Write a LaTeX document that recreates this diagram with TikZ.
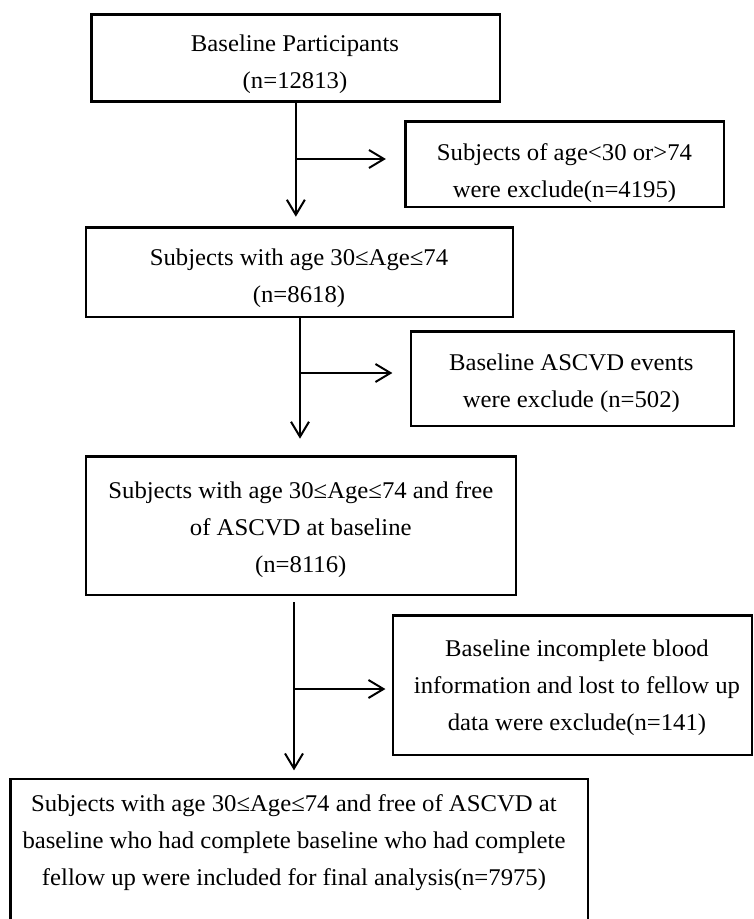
\documentclass[tikz,border=0pt]{standalone}
\usepackage{fontspec}
\setmainfont[FakeStretch=1.03]{Liberation Serif}
\usetikzlibrary{arrows.meta,calc}
\begin{document}
\begin{tikzpicture}[x=1pt,y=-1pt,
  txt/.style={align=center,font=\fontsize{24}{37}\selectfont,inner sep=0pt},
  box/.style={draw,line width=2.6pt,inner sep=0pt},
  arr/.style={line width=2pt,-{Straight Barb[length=15pt,width=18pt]}}]
\useasboundingbox (0,0) rectangle (753,919);
\clip (0,0) rectangle (753,919);
% boxes
\node[box,minimum width=408.3pt,minimum height=87pt] (b1) at (295.85,58.2) {};
\node[box,minimum width=318.3pt,minimum height=85.3pt] (e1) at (564.85,164.35) {};
\node[box,minimum width=427pt,minimum height=89.5pt] (b2) at (299.5,272.25) {};
\node[box,minimum width=323pt,minimum height=94.3pt] (e2) at (572.5,378.85) {};
\node[box,minimum width=430pt,minimum height=138.5pt] (b3) at (301,525.75) {};
\node[box,minimum width=359pt,minimum height=139.3pt] (e3) at (572.5,685.35) {};
\node[box,minimum width=577.4pt,minimum height=181pt] (b4) at (299.3,869.5) {};
% texts
\node[txt] (t1) at (295,64) {Baseline Participants\\(n=12813)};
\node[txt] (te1) at (564.5,173) {Subjects of age<30 or>74\\were exclude(n=4195)};
\node[txt] (t2) at (299,278.5) {Subjects with age 30≤Age≤74\\(n=8618)};
\node[txt] (te2) at (571.3,383.5) {Baseline ASCVD events\\were exclude (n=502)};
\node[txt] (t3) at (300.8,529.5) {Subjects with age 30≤Age≤74 and free\\of ASCVD at baseline\\(n=8116)};
\node[txt] (te3) at (577,688) {Baseline incomplete blood\\information and lost to fellow up\\data were exclude(n=141)};
\node[txt] (t4) at (294,843) {Subjects with age 30≤Age≤74 and free of ASCVD at\\baseline who had complete baseline who had complete\\fellow up were included for final analysis(n=7975)};
% branch points
\coordinate (j1) at (295.85,159);
\coordinate (j2) at (300,373);
\coordinate (j3) at (294,689);
% connectors
\draw[arr,shorten >=9.5pt] (b1.south) -- (b1.south |- b2.north);
\draw[arr,shorten >=18.5pt] (j1) -- (j1 -| e1.west);
\draw[arr,shorten >=16.5pt] (b2.south -| j2) -- (b3.north -| j2);
\draw[arr,shorten >=17.3pt] (j2) -- (j2 -| e2.west);
\draw[arr,shorten <=6pt,shorten >=7.3pt] (b3.south -| j3) -- (b4.north -| j3);
\draw[arr,shorten >=6.3pt] (j3) -- (j3 -| e3.west);
\end{tikzpicture}
\end{document}
